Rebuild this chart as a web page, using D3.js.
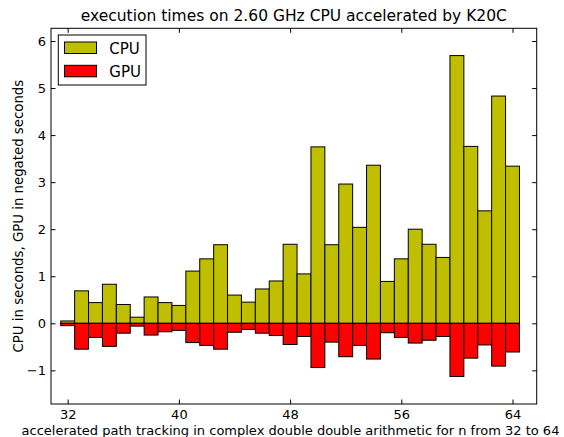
<!DOCTYPE html>
<html><head><meta charset="utf-8">
<script src="https://cdn.jsdelivr.net/npm/d3@7"></script>
<style>
body{margin:0;background:#fff;}
text{font-family:"DejaVu Sans",sans-serif;fill:#000;}
</style></head>
<body><svg id="c" width="564" height="437"></svg>
<script>
const sizes = [32,33,34,35,36,37,38,39,40,41,42,43,44,45,46,47,48,49,50,51,52,53,54,55,56,57,58,59,60,61,62,63,64];
const cpuTimes = [0.05,0.69,0.44,0.83,0.40,0.13,0.56,0.44,0.38,1.11,1.37,1.67,0.60,0.45,0.73,0.90,1.68,1.05,3.75,1.67,2.96,2.04,3.36,0.89,1.37,2.00,1.68,1.40,5.69,3.76,2.39,4.83,3.34];
const gpuTimes = [0.05,0.55,0.30,0.49,0.21,0.06,0.25,0.18,0.15,0.41,0.47,0.55,0.19,0.13,0.21,0.26,0.45,0.28,0.94,0.40,0.71,0.47,0.76,0.20,0.30,0.42,0.36,0.28,1.13,0.74,0.46,0.91,0.61];
const xTicks = [32,40,48,56,64];
const yTicks = [-1,0,1,2,3,4,5,6];
const seriesNames = ["CPU","GPU"];
const seriesColors = ["#bfbf00","#ff0000"];
const titleText = "execution times on 2.60 GHz CPU accelerated by K20C";
const xLabelText = "accelerated path tracking in complex double double arithmetic for n from 32 to 64";
const yLabelText = "CPU in seconds, GPU in negated seconds";

const L=51, R=536.7, T=28.3, B=404;
const svg = d3.select("#c");
const x = d3.scaleLinear().domain([30.8,65.74]).range([L,R]);
const y = d3.scaleLinear().domain([-1.715,6.27]).range([B,T]);

const g = svg.append("g");
g.selectAll("rect.cpu").data(sizes).join("rect")
 .attr("x", d=>x(d-0.5)).attr("width", d=>x(d+0.5)-x(d-0.5))
 .attr("y", (d,i)=>y(cpuTimes[i])).attr("height",(d,i)=>y(0)-y(cpuTimes[i]))
 .attr("fill",seriesColors[0]).attr("stroke","#000").attr("stroke-width",1);
g.selectAll("rect.gpu").data(sizes).join("rect")
 .attr("x", d=>x(d-0.5)).attr("width", d=>x(d+0.5)-x(d-0.5))
 .attr("y", y(0)).attr("height",(d,i)=>y(-gpuTimes[i])-y(0))
 .attr("fill",seriesColors[1]).attr("stroke","#000").attr("stroke-width",1);

function styleAxis(sel, showLabels){
  sel.select(".domain").remove();
  sel.selectAll(".tick line").attr("stroke","#000").attr("stroke-width",1);
  sel.selectAll(".tick text").style("font-size","13px").style("font-family","DejaVu Sans");
  if(!showLabels) sel.selectAll(".tick text").remove();
}
const fmt = d=> d<0 ? "\u2212"+Math.abs(d) : String(d);
svg.append("g").attr("transform",`translate(0,${B})`)
 .call(d3.axisBottom(x).tickValues(xTicks).tickSizeInner(-4.5).tickSizeOuter(0).tickPadding(6).tickFormat(fmt))
 .call(s=>styleAxis(s,true));
svg.append("g").attr("transform",`translate(0,${T})`)
 .call(d3.axisTop(x).tickValues(xTicks).tickSizeInner(-4.5).tickSizeOuter(0))
 .call(s=>styleAxis(s,false));
svg.append("g").attr("transform",`translate(${L},0)`)
 .call(d3.axisLeft(y).tickValues(yTicks).tickSizeInner(-4.5).tickSizeOuter(0).tickPadding(5).tickFormat(fmt))
 .call(s=>styleAxis(s,true));
svg.append("g").attr("transform",`translate(${R},0)`)
 .call(d3.axisRight(y).tickValues(yTicks).tickSizeInner(-4.5).tickSizeOuter(0))
 .call(s=>styleAxis(s,false));

svg.append("rect").attr("x",L).attr("y",T).attr("width",R-L).attr("height",B-T)
 .attr("fill","none").attr("stroke","#000").attr("stroke-width",1);

svg.append("text").attr("x",(L+R)/2).attr("y",21).attr("text-anchor","middle")
 .style("font-size","15.5px").text(titleText);
svg.append("text").attr("x",290.5).attr("y",435).attr("text-anchor","middle")
 .style("font-size","13px").text(xLabelText);
svg.append("text").attr("transform",`translate(22.5,${(T+B)/2}) rotate(-90)`).attr("text-anchor","middle")
 .style("font-size","13.3px").text(yLabelText);

const lg = svg.append("g");
lg.append("rect").attr("x",58.3).attr("y",35).attr("width",87.7).attr("height",50)
 .attr("fill","#fff").attr("stroke","#000").attr("stroke-width",1);
seriesNames.forEach((nm,i)=>{
  const yy = 42 + i*23.3;
  lg.append("rect").attr("x",64.5).attr("y",yy).attr("width",32).attr("height",11.5)
   .attr("fill",seriesColors[i]).attr("stroke","#000").attr("stroke-width",1);
  lg.append("text").attr("x",109.3).attr("y",yy+11.6).style("font-size","15px").text(nm);
});
</script></body></html>
